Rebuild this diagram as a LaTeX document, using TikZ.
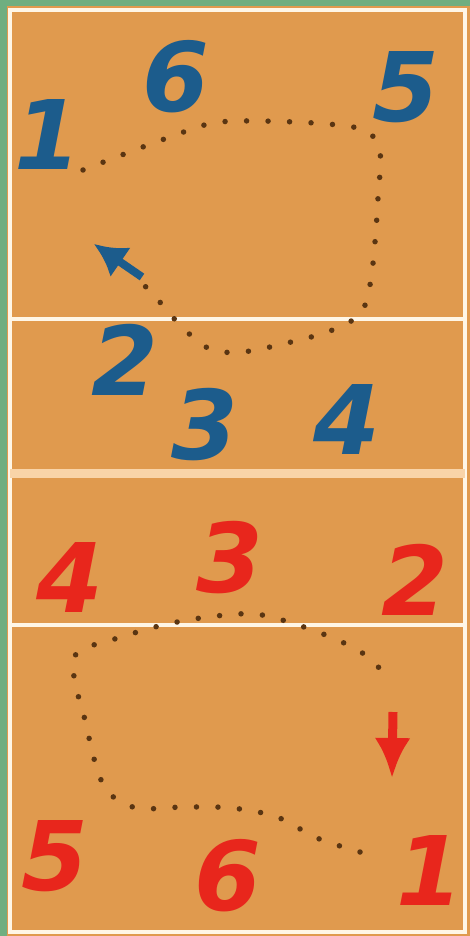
\documentclass[tikz,border=0pt]{standalone}
\usepackage{fontspec}
\setmainfont{DejaVu Sans}
\usetikzlibrary{arrows.meta}
\definecolor{courtc}{HTML}{E09A4E}
\definecolor{edgec}{HTML}{6FAE80}
\definecolor{linec}{HTML}{FFF6E6}
\definecolor{midc}{HTML}{F9D4A8}
\definecolor{dotc}{HTML}{5A3512}
\definecolor{bluec}{HTML}{1C5C8C}
\definecolor{redc}{HTML}{E8261C}
\tikzset{
  courtline/.style={draw=linec, line width=3.5pt},
  num/.style={font=\fontsize{96}{96}\selectfont\bfseries\itshape, inner sep=0pt},
  bnum/.style={num, text=bluec},
  rnum/.style={num, text=redc},
  dots/.style={draw=dotc, line width=5.5pt, line cap=round, dash pattern=on 0pt off 21.5pt},
}
\begin{document}
\begin{tikzpicture}[x=1pt,y=-1pt]
\useasboundingbox (0,0) rectangle (470,936);
\fill[courtc] (0,0) rectangle (470,936);
\fill[edgec] (0,0) rectangle (7,936);
\fill[edgec] (0,0) rectangle (470,6);
% court lines
\draw[courtline] (10,10) -- (465,10) -- (465,932) -- (10,932) -- cycle;
\draw[courtline] (10,319) -- (465,319);
\draw[draw=midc, line width=9pt] (10,473) -- (465,473);
\draw[courtline] (10,625) -- (465,625);
% top rotation path
\draw[dots] plot[smooth, tension=0.55] coordinates {(83,170) (127,153) (170,137) (213,123) (260,121) (328,124) (366,131) (380,152) (378,198) (375,242) (370,285) (360,314) (330,331) (287,343) (242,352) (210,349) (182,327) (152,293) (140,282)};
\coordinate (ba0) at (142,277);
\coordinate (ba1) at (94,244);
\draw[bluec, line width=8pt, -{Latex[length=32pt,width=36pt]}] (ba0) -- (ba1);
% bottom rotation path
\draw[dots] plot[smooth, tension=0.55] coordinates {(360,852) (317,838) (277,817) (232,808) (185,807) (137,808) (108,792) (95,762) (85,720) (74,677) (78,652) (118,638) (163,625) (208,617) (255,614) (298,625) (342,642) (372,660) (390,684)};
\coordinate (ra0) at (393,712);
\coordinate (ra1) at (392,778);
\draw[redc, line width=9pt, -{Latex[length=40pt,width=36pt]}] (ra0) -- (ra1);
% blue numbers
\node[bnum] (b1) at (48,135) {1};
\node[bnum] (b6) at (176,77) {6};
\node[bnum] (b5) at (406,87) {5};
\node[bnum] (b2) at (125,360) {2};
\node[bnum] (b3) at (205,425) {3};
\node[bnum] (b4) at (347,420) {4};
% red numbers
\node[rnum] (r4) at (70,578) {4};
\node[rnum] (r3) at (230,558) {3};
\node[rnum] (r2) at (415,580) {2};
\node[rnum] (r5) at (55,856) {5};
\node[rnum] (r6) at (228,876) {6};
\node[rnum] (r1) at (430,870) {1};
\end{tikzpicture}
\end{document}
